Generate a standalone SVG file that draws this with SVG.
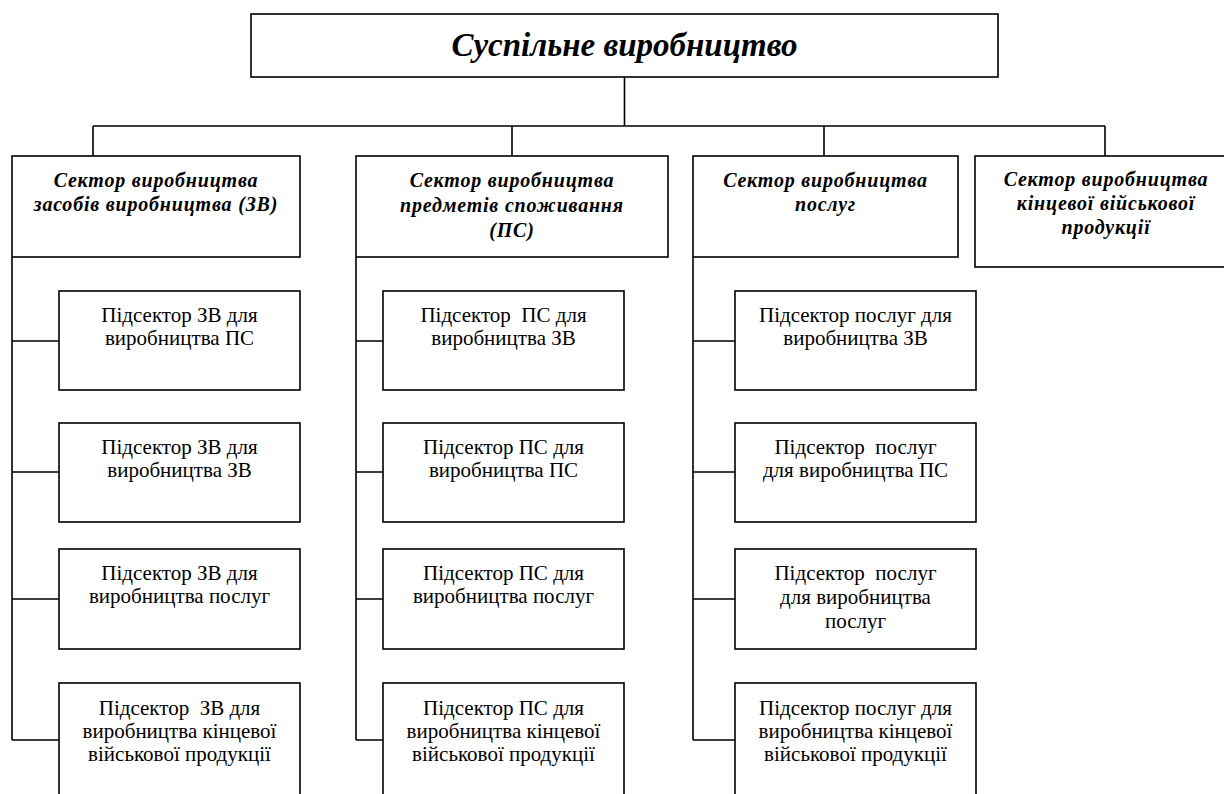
<svg xmlns="http://www.w3.org/2000/svg" width="1224" height="794" viewBox="0 0 1224 794">
<style>
.box{fill:#fff;stroke:#000;stroke-width:1.6}
.ln{fill:none;stroke:#000;stroke-width:1.6}
.title{font-family:"Liberation Serif","Times New Roman",serif;font-weight:bold;font-style:italic;font-size:33px;text-anchor:middle}
.sec{font-family:"Liberation Serif","Times New Roman",serif;font-weight:bold;font-style:italic;font-size:20px;text-anchor:middle;letter-spacing:0.8px}
.sub{font-family:"Liberation Serif","Times New Roman",serif;font-size:21px;text-anchor:middle}
</style>
<rect width="1224" height="794" fill="#fff"/>
<g id="connectors">
<path class="ln" d="M624.5 77V126M93 126H1105M93 126V156M512 126V156M824 126V156M1105 126V156"/>
<path class="ln" d="M12 257V740M12 341H59M12 472H59M12 599H59M12 740H59"/>
<path class="ln" d="M356 257V740M356 341H383M356 472H383M356 599H383M356 740H383"/>
<path class="ln" d="M693 257V740M693 341H735M693 472H735M693 599H735M693 740H735"/>
</g>
<g id="root"><rect class="box" x="251" y="14" width="747" height="63"/><text class="title" x="624.5" y="56">Суспільне виробництво</text></g>
<g id="sector1"><rect class="box" x="12" y="156" width="288" height="101"/><text class="sec" x="156" y="187">Сектор виробництва</text><text class="sec" x="156" y="211">засобів виробництва (ЗВ)</text></g>
<g id="sector2"><rect class="box" x="356" y="156" width="312" height="101"/><text class="sec" x="512" y="187">Сектор виробництва</text><text class="sec" x="512" y="212">предметів споживання</text><text class="sec" x="512" y="237">(ПС)</text></g>
<g id="sector3"><rect class="box" x="693" y="156" width="265" height="101"/><text class="sec" x="825.5" y="187">Сектор виробництва</text><text class="sec" x="825.5" y="211">послуг</text></g>
<g id="sector4"><rect class="box" x="975" y="156" width="262" height="111"/><text class="sec" x="1106" y="186">Сектор виробництва</text><text class="sec" x="1106" y="210">кінцевої військової</text><text class="sec" x="1106" y="234">продукції</text></g>

<g id="s1r1"><rect class="box" x="59" y="291" width="241" height="99"/><text class="sub" x="179.5" y="322">Підсектор ЗВ для</text><text class="sub" x="179.5" y="345">виробництва ПС</text></g>
<g id="s1r2"><rect class="box" x="59" y="423" width="241" height="99"/><text class="sub" x="179.5" y="454">Підсектор ЗВ для</text><text class="sub" x="179.5" y="477">виробництва ЗВ</text></g>
<g id="s1r3"><rect class="box" x="59" y="549" width="241" height="100"/><text class="sub" x="179.5" y="580">Підсектор ЗВ для</text><text class="sub" x="179.5" y="603">виробництва послуг</text></g>
<g id="s1r4"><rect class="box" x="59" y="683" width="241" height="130"/><text class="sub" x="179.5" y="715" xml:space="preserve">Підсектор  ЗВ для</text><text class="sub" x="179.5" y="738">виробництва кінцевої</text><text class="sub" x="179.5" y="761">військової продукції</text></g>

<g id="s2r1"><rect class="box" x="383" y="291" width="241" height="99"/><text class="sub" x="503.5" y="322" xml:space="preserve">Підсектор  ПС для</text><text class="sub" x="503.5" y="345">виробництва ЗВ</text></g>
<g id="s2r2"><rect class="box" x="383" y="423" width="241" height="99"/><text class="sub" x="503.5" y="454">Підсектор ПС для</text><text class="sub" x="503.5" y="477">виробництва ПС</text></g>
<g id="s2r3"><rect class="box" x="383" y="549" width="241" height="100"/><text class="sub" x="503.5" y="580">Підсектор ПС для</text><text class="sub" x="503.5" y="603">виробництва послуг</text></g>
<g id="s2r4"><rect class="box" x="383" y="683" width="241" height="130"/><text class="sub" x="503.5" y="715">Підсектор ПС для</text><text class="sub" x="503.5" y="738">виробництва кінцевої</text><text class="sub" x="503.5" y="761">військової продукції</text></g>

<g id="s3r1"><rect class="box" x="735" y="291" width="241" height="99"/><text class="sub" x="855.5" y="322">Підсектор послуг для</text><text class="sub" x="855.5" y="345">виробництва ЗВ</text></g>
<g id="s3r2"><rect class="box" x="735" y="423" width="241" height="99"/><text class="sub" x="855.5" y="454" xml:space="preserve">Підсектор  послуг</text><text class="sub" x="855.5" y="477">для виробництва ПС</text></g>
<g id="s3r3"><rect class="box" x="735" y="549" width="241" height="100"/><text class="sub" x="855.5" y="580" xml:space="preserve">Підсектор  послуг</text><text class="sub" x="855.5" y="604">для виробництва</text><text class="sub" x="855.5" y="628">послуг</text></g>
<g id="s3r4"><rect class="box" x="735" y="683" width="241" height="130"/><text class="sub" x="855.5" y="715">Підсектор послуг для</text><text class="sub" x="855.5" y="738">виробництва кінцевої</text><text class="sub" x="855.5" y="761">військової продукції</text></g>
</svg>
